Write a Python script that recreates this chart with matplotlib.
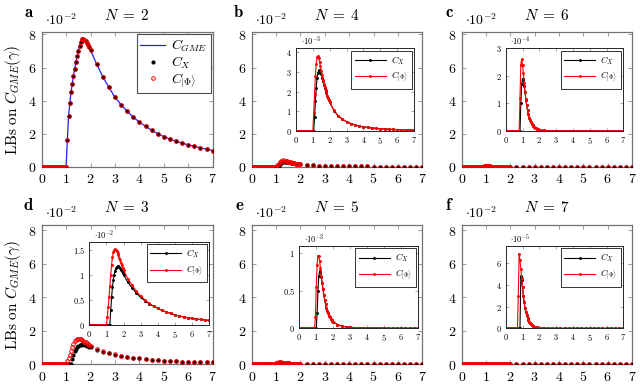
"""Lower bounds on C_GME(gamma) for N = 2..7, six panels with insets."""

import numpy as np
import matplotlib
matplotlib.use("Agg")
import matplotlib.pyplot as plt
from matplotlib.lines import Line2D
from matplotlib.ticker import FuncFormatter, MultipleLocator

plt.rcParams["mathtext.fontset"] = "cm"
plt.rcParams["font.family"] = "serif"

# gamma grid: dense up to 2, coarse tail
LEAD_GAMMA = np.round(np.arange(0.0, 0.701, 0.05), 3)   # always zero here
RISE_GAMMA = np.round(np.arange(0.75, 2.001, 0.05), 3)  # 26 points
TAIL_GAMMA = np.round(np.arange(2.25, 7.001, 0.25), 3)  # 20 points

# N = 2  (x 1e-2), C_GME = C_X = C_Phi
A_GME = [0, 0, 0, 0, 0, 0, 1.6, 3.05, 3.85, 4.52, 5.0, 5.5, 5.93, 6.35, 6.7, 7.0,
         7.32, 7.55, 7.7, 7.72, 7.68, 7.6, 7.5, 7.37, 7.22, 7.05,
         6.2, 5.45, 4.8, 4.2, 3.75, 3.35, 3.0, 2.7, 2.45, 2.2,
         2.0, 1.82, 1.67, 1.54, 1.43, 1.32, 1.23, 1.14, 1.06, 0.98]

# N = 4  (x 1e-3)
B_X = [0, 0, 0, 0, 0, 0, 0, 0.7, 1.5, 2.2, 2.7, 2.95, 3.08, 3.1, 3.02, 2.88,
       2.7, 2.52, 2.35, 2.2, 2.05, 1.91, 1.78, 1.66, 1.55, 1.45,
       1.04, 0.77, 0.6, 0.47, 0.38, 0.31, 0.25, 0.21, 0.18, 0.15,
       0.13, 0.11, 0.1, 0.09, 0.08, 0.07, 0.06, 0.055, 0.05, 0.045]
B_PHI = [0, 0, 0, 0, 0, 0, 0.9, 1.9, 2.8, 3.4, 3.75, 3.8, 3.7, 3.5, 3.28, 3.05,
         2.82, 2.6, 2.4, 2.22, 2.06, 1.92, 1.79, 1.67, 1.56, 1.46,
         1.05, 0.78, 0.6, 0.47, 0.38, 0.31, 0.25, 0.21, 0.18, 0.15,
         0.13, 0.11, 0.1, 0.09, 0.08, 0.07, 0.06, 0.055, 0.05, 0.045]

# N = 6  (x 1e-4)
C_X = [0, 0, 0, 1.0, 1.7, 1.9, 1.85, 1.65, 1.4, 1.14, 0.93, 0.75, 0.6, 0.48, 0.39, 0.32,
       0.26, 0.21, 0.17, 0.14, 0.115, 0.095, 0.078, 0.065, 0.054, 0.045,
       0.022, 0.012, 0.007, 0.004, 0.003, 0.002, 0.0015, 0.001, 0.001, 0.001,
       0, 0, 0, 0, 0, 0, 0, 0, 0, 0]
C_PHI = [0, 0, 1.2, 2.4, 2.6, 2.4, 2.1, 1.75, 1.42, 1.15, 0.93, 0.75, 0.6, 0.48, 0.39, 0.32,
         0.26, 0.21, 0.17, 0.14, 0.115, 0.095, 0.078, 0.065, 0.054, 0.045,
         0.022, 0.012, 0.007, 0.004, 0.003, 0.002, 0.0015, 0.001, 0.001, 0.001,
         0, 0, 0, 0, 0, 0, 0, 0, 0, 0]

# N = 3  (x 1e-2)
D_X = [0, 0, 0, 0, 0, 0, 0, 0, 0, 0, 0.3, 0.55, 0.75, 0.9, 1.0, 1.08,
       1.13, 1.16, 1.17, 1.17, 1.15, 1.13, 1.1, 1.07, 1.04, 1.0,
       0.85, 0.74, 0.63, 0.55, 0.48, 0.42, 0.37, 0.33, 0.29, 0.26,
       0.23, 0.2, 0.18, 0.16, 0.145, 0.13, 0.12, 0.11, 0.1, 0.09]
D_PHI = [0, 0, 0, 0, 0, 0, 0.15, 0.35, 0.55, 0.78, 1.0, 1.2, 1.35, 1.45, 1.5, 1.51,
         1.5, 1.47, 1.43, 1.39, 1.34, 1.29, 1.24, 1.19, 1.14, 1.1,
         0.92, 0.79, 0.67, 0.58, 0.5, 0.43, 0.38, 0.33, 0.29, 0.26,
         0.23, 0.2, 0.18, 0.16, 0.145, 0.13, 0.12, 0.11, 0.1, 0.09]

# N = 5  (x 1e-3)
E_X = [0, 0, 0, 0, 0, 0, 0.2, 0.5, 0.7, 0.77, 0.75, 0.68, 0.6, 0.52, 0.44, 0.38,
       0.32, 0.27, 0.23, 0.2, 0.17, 0.15, 0.13, 0.11, 0.1, 0.09,
       0.05, 0.03, 0.02, 0.013, 0.01, 0.007, 0.005, 0.004, 0.003, 0.003,
       0.002, 0.002, 0.002, 0.001, 0.001, 0.001, 0.001, 0.001, 0.001, 0.001]
E_PHI = [0, 0, 0, 0, 0.15, 0.55, 0.85, 0.97, 0.97, 0.9, 0.8, 0.7, 0.6, 0.52, 0.44, 0.38,
         0.32, 0.27, 0.23, 0.2, 0.17, 0.15, 0.13, 0.11, 0.1, 0.09,
         0.05, 0.03, 0.02, 0.013, 0.01, 0.007, 0.005, 0.004, 0.003, 0.003,
         0.002, 0.002, 0.002, 0.001, 0.001, 0.001, 0.001, 0.001, 0.001, 0.001]

# N = 7  (x 1e-5)
F_X = [0, 0, 0, 4.8, 4.5, 3.8, 3.0, 2.4, 1.9, 1.5, 1.2, 0.95, 0.75, 0.6, 0.47, 0.37,
       0.3, 0.24, 0.19, 0.15, 0.12, 0.1, 0.08, 0.065, 0.05, 0.04,
       0.015, 0.006, 0.003, 0.001, 0, 0, 0, 0, 0, 0,
       0, 0, 0, 0, 0, 0, 0, 0, 0, 0]
F_PHI = [3.0, 6.9, 6.3, 5.5, 4.6, 3.8, 3.0, 2.4, 1.9, 1.5, 1.2, 0.95, 0.75, 0.6, 0.47, 0.37,
         0.3, 0.24, 0.19, 0.15, 0.12, 0.1, 0.08, 0.065, 0.05, 0.04,
         0.015, 0.006, 0.003, 0.001, 0, 0, 0, 0, 0, 0,
         0, 0, 0, 0, 0, 0, 0, 0, 0, 0]

GAMMA = np.concatenate([LEAD_GAMMA, RISE_GAMMA, TAIL_GAMMA])

RED = "#ff0000"
BLUE = "#2020ff"
num_fmt = FuncFormatter(lambda v, p: f"${v:g}$")


def full(vals):
    return np.concatenate([np.zeros(len(LEAD_GAMMA)), np.array(vals, dtype=float)])


def style_main(ax, ymax):
    ax.set_xlim(0, 7)
    ax.set_ylim(0, ymax)
    ax.xaxis.set_major_locator(MultipleLocator(1))
    ax.yaxis.set_major_locator(MultipleLocator(2))
    ax.xaxis.set_major_formatter(num_fmt)
    ax.yaxis.set_major_formatter(num_fmt)
    for sp in ax.spines.values():
        sp.set_color("0.45")
        sp.set_linewidth(0.9)
    ax.tick_params(direction="in", top=True, right=True, color="0.55",
                   length=3, width=0.6, labelsize=10, pad=4)
    ax.text(0.02, 1.03, r"$\cdot 10^{-2}$", transform=ax.transAxes,
            fontsize=10, ha="left", va="bottom")


def style_inset(ax, ymax, ystep, exp):
    ax.set_xlim(0, 7)
    ax.set_ylim(0, ymax)
    ax.xaxis.set_major_locator(MultipleLocator(1))
    ax.yaxis.set_major_locator(MultipleLocator(ystep))
    ax.xaxis.set_major_formatter(num_fmt)
    ax.yaxis.set_major_formatter(num_fmt)
    for sp in ax.spines.values():
        sp.set_color("0.15")
        sp.set_linewidth(0.7)
    ax.tick_params(direction="in", top=True, right=True, color="0.4",
                   length=2, width=0.4, labelsize=6, pad=3)
    ax.text(0.04, 1.01, r"$\cdot 10^{-%d}$" % exp, transform=ax.transAxes,
            fontsize=6, ha="left", va="bottom")


def draw_marks(ax, cx, cphi):
    ax.plot(GAMMA, cx, ls="none", marker="o", ms=2.0, color="black", zorder=3)
    ax.plot(GAMMA, cphi, ls="none", marker="o", ms=2.6, mfc="none",
            mec=RED, mew=0.7, zorder=4)


def draw_inset(ax, cx, cphi):
    ax.plot(GAMMA, cx, color="black", lw=0.8, marker="o", ms=1.1, label=r"$C_X$")
    ax.plot(GAMMA, cphi, color=RED, lw=0.8, marker="o", ms=1.1,
            label=r"$C_{|\Phi\rangle}$")
    leg = ax.legend(loc="upper right", fontsize=6.5, handlelength=3.4,
                    borderaxespad=0.25, fancybox=False, framealpha=1,
                    borderpad=0.4, labelspacing=0.3, handletextpad=0.6)
    leg.get_frame().set_edgecolor("0.2")
    leg.get_frame().set_linewidth(0.7)


fig = plt.figure(figsize=(6.4, 3.86), dpi=100)

W, H = 640.0, 386.0


def box(x0, y0, x1, y1):
    return [x0 / W, (H - y1) / H, (x1 - x0) / W, (y1 - y0) / H]


main_boxes = {
    "a": box(41.7, 32, 212.7, 166.7),
    "b": box(251.7, 32, 422.3, 166.7),
    "c": box(461.7, 32, 632, 166.7),
    "d": box(41.7, 225, 212.7, 364),
    "e": box(251.7, 225, 422.3, 364),
    "f": box(461.7, 225, 632, 364),
}
inset_boxes = {
    "b": box(296, 48.3, 414, 131),
    "c": box(505.7, 48.3, 623.3, 131),
    "d": box(89.3, 241.7, 209.3, 325),
    "e": box(299.3, 246, 418, 328.3),
    "f": box(505.7, 246, 623.3, 328.3),
}

panels = [
    ("a", 2, A_GME, A_GME, 1.0, None),
    ("b", 4, B_X, B_PHI, 0.1, (4.2, 1, 3)),
    ("c", 6, C_X, C_PHI, 0.01, (3.0, 1, 4)),
    ("d", 3, D_X, D_PHI, 1.0, (1.66, 0.5, 2)),
    ("e", 5, E_X, E_PHI, 0.1, (1.1, 0.5, 3)),
    ("f", 7, F_X, F_PHI, 0.001, (7.6, 2, 5)),
]

for key, n, cx, cphi, factor, inset in panels:
    ax = fig.add_axes(main_boxes[key])
    cx_full = full(cx)
    cphi_full = full(cphi)
    ymax = 8.15 if key in "abc" else 8.3
    if key == "a":
        ax.plot(GAMMA, cx_full, color=BLUE, lw=0.9, zorder=2)
    draw_marks(ax, cx_full * factor, cphi_full * factor)
    style_main(ax, ymax)
    ax.set_title(r"$N\;=\;%d$" % n, fontsize=11, pad=9)
    ax.text(-0.045, 1.08, r"$\mathbf{%s}$" % key, transform=ax.transAxes,
            fontsize=12, ha="right", va="bottom")
    if key in "ad":
        ax.set_ylabel(r"$\mathrm{LBs\ on}\ C_{GME}(\gamma)$", fontsize=11, labelpad=3)
    if key == "a":
        handles = [
            Line2D([], [], color=BLUE, lw=0.9),
            Line2D([], [], ls="none", marker="o", ms=2.0, color="black"),
            Line2D([], [], ls="none", marker="o", ms=2.6, mfc="none", mec=RED, mew=0.7),
        ]
        labels = [r"$C_{GME}$", r"$C_X$", r"$C_{|\Phi\rangle}$"]
        leg = ax.legend(handles, labels, loc="upper right", fontsize=10,
                        handlelength=1.8, handletextpad=0.4, borderaxespad=0.15,
                        fancybox=False, framealpha=1, borderpad=0.25,
                        labelspacing=0.05)
        leg.get_frame().set_edgecolor("0.3")
        leg.get_frame().set_linewidth(0.8)
    else:
        ymax_in, ystep, exp = inset
        axi = fig.add_axes(inset_boxes[key])
        draw_inset(axi, cx_full, cphi_full)
        style_inset(axi, ymax_in, ystep, exp)

fig.savefig("out.png", dpi=100)
